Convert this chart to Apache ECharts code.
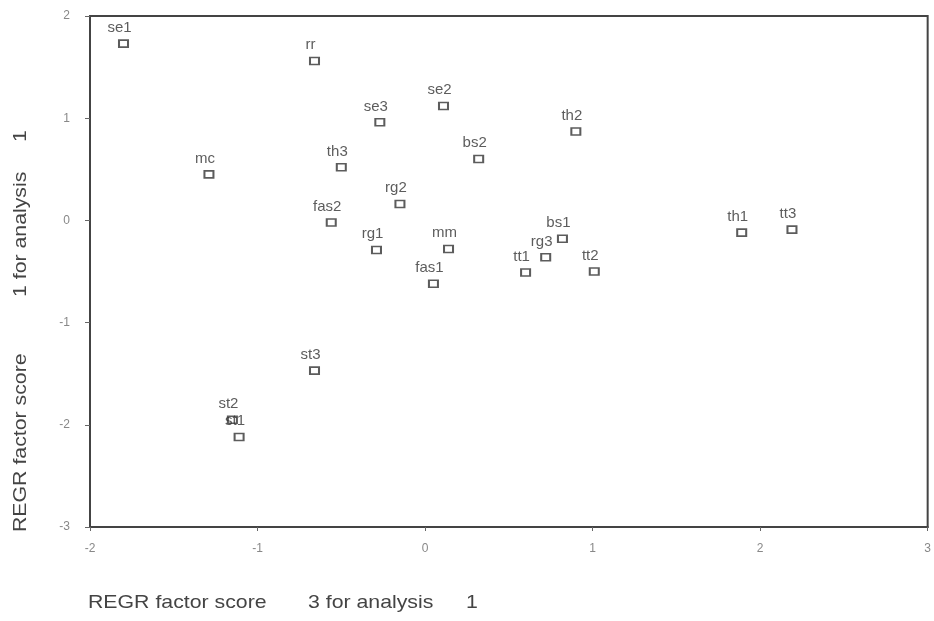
<!DOCTYPE html>
<html>
<head>
<meta charset="utf-8">
<script src="https://cdn.jsdelivr.net/npm/echarts@6/dist/echarts.min.js"></script>
<style>html,body{margin:0;padding:0;background:#fff}#c{width:934px;height:621px}</style>
</head>
<body>
<div id="c"></div>
<script>
const names   = ['se1','rr','se2','se3','th2','mc','th3','bs2','rg2','fas2','rg1','mm','fas1','tt1','rg3','bs1','tt2','th1','tt3','st3','st1','st2'];
const xScores = [-1.80,-0.66,0.11,-0.27,0.90,-1.29,-0.50,0.32,-0.15,-0.56,-0.29,0.14,0.05,0.60,0.72,0.82,1.01,1.89,2.19,-0.66,-1.11,-1.15];
const yScores = [1.73,1.56,1.12,0.96,0.87,0.45,0.52,0.60,0.16,-0.02,-0.29,-0.28,-0.62,-0.51,-0.36,-0.18,-0.50,-0.12,-0.09,-1.47,-2.12,-1.95];
const xTicks = {min:-2, max:3, interval:1};
const yTicks = {min:-3, max:2, interval:1};
const xTitleParts = ['REGR factor score', '3 for analysis', '1'];
const yTitleParts = ['REGR factor score', '1 for analysis', '1'];

const chart = echarts.init(document.getElementById('c'), null, {renderer:'canvas'});
const pts = names.map((n,i)=>({name:n, value:[xScores[i], yScores[i]]}));
const axisFont = {color:'#888', fontSize:12, fontFamily:'Liberation Sans, Arial, sans-serif'};
const titleFont = '19px "Liberation Sans", Arial, sans-serif';
const xPos = [88, 308, 466];
const yPos = [532, 297, 142];
const graphics = [];
xTitleParts.forEach((t,i)=>graphics.push({type:'text', x:xPos[i], y:603, scaleX:1.12,
  style:{text:t, fill:'#444', font:titleFont, textVerticalAlign:'middle'}}));
yTitleParts.forEach((t,i)=>graphics.push({type:'text', x:21, y:yPos[i], rotation:Math.PI/2, scaleX:1.12,
  style:{text:t, fill:'#444', font:titleFont, textVerticalAlign:'middle'}}));

chart.setOption({
  animation:false,
  backgroundColor:'#fff',
  grid:{left:90, top:16, right:2, bottom:94, show:true, borderColor:'#444', borderWidth:2, backgroundColor:'transparent'},
  xAxis:{type:'value', min:xTicks.min, max:xTicks.max, interval:xTicks.interval,
    axisLine:{show:true, onZero:false, lineStyle:{color:'#444', width:2}},
    axisTick:{show:true, inside:false, length:4, lineStyle:{color:'#666'}},
    axisLabel:Object.assign({margin:16}, axisFont),
    splitLine:{show:false}},
  yAxis:{type:'value', min:yTicks.min, max:yTicks.max, interval:yTicks.interval,
    axisLine:{show:true, onZero:false, lineStyle:{color:'#444', width:2}},
    axisTick:{show:true, inside:false, length:5, lineStyle:{color:'#666'}},
    axisLabel:Object.assign({margin:20}, axisFont),
    splitLine:{show:false}},
  series:[{
    type:'scatter',
    data:pts,
    symbol:'rect',
    symbolSize:[9,7],
    itemStyle:{color:'#fff', borderColor:'#333', borderWidth:1.8},
    label:{show:true, position:'top', distance:4, offset:[-4,0], formatter:'{b}',
      color:'#333', fontSize:15, fontFamily:'Liberation Sans, Arial, sans-serif'},
    emphasis:{disabled:true}
  }],
  graphic:graphics
});
</script>
</body>
</html>
